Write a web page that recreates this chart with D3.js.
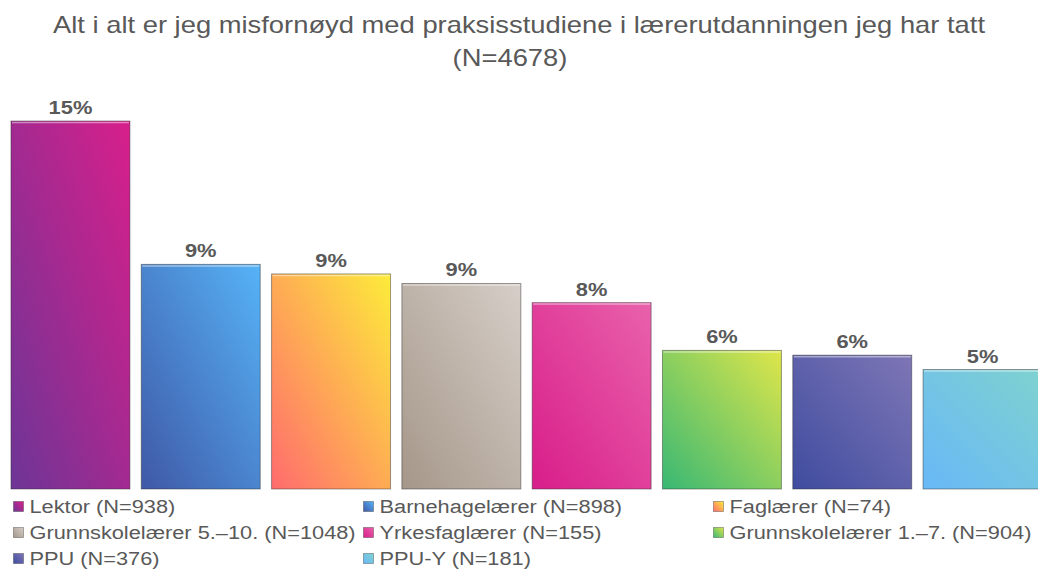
<!DOCTYPE html>
<html>
<head>
<meta charset="utf-8">
<script src="https://cdn.jsdelivr.net/npm/d3@7"></script>
<style>
  html, body { margin: 0; padding: 0; background: #fff; }
  svg { display: block; font-family: "Liberation Sans", Arial, sans-serif; }
</style>
</head>
<body>
<div id="chart"></div>
<script>
// Data
const titleLines = ['Alt i alt er jeg misfornøyd med praksisstudiene i lærerutdanningen jeg har tatt', '(N=4678)'];
const categories = ['Lektor', 'Barnehagelærer', 'Faglærer', 'Grunnskolelærer 5.–10.', 'Yrkesfaglærer', 'Grunnskolelærer 1.–7.', 'PPU', 'PPU-Y'];
const counts = [938, 898, 74, 1048, 155, 904, 376, 181];
const values = [15.4, 9.4, 9.0, 8.6, 7.8, 5.8, 5.6, 5.0];
// gradient colours: [bottom-left, top-right]
const gradients = [
    ['#6d3596', '#d81f8b'],
    ['#3f58a6', '#56b3f7'],
    ['#ff6b6e', '#fdec3a'],
    ['#a59789', '#d6cec8'],
    ['#d81d8a', '#e962ab'],
    ['#38b874', '#dfe64a'],
    ['#3f4c9f', '#7e76b6'],
    ['#68b8f7', '#7fd2cf']
];

const width = 1038, height = 572;
const textColor = '#595959';
const stretch = 1.19; // text in the picture is drawn a bit wide

const svg = d3.select('#chart').append('svg')
    .attr('width', width)
    .attr('height', height);

const defs = svg.append('defs');
gradients.forEach((g, i) => {
    const lg = defs.append('linearGradient')
        .attr('id', `grad${i}`)
        .attr('x1', '0%').attr('y1', '100%')
        .attr('x2', '100%').attr('y2', '0%');
    lg.append('stop').attr('offset', '0%').attr('stop-color', g[0]);
    lg.append('stop').attr('offset', '100%').attr('stop-color', g[1]);
});

// Title
const titlePos = [[519, 33], [510, 66]];
svg.append('g')
    .attr('class', 'title')
    .selectAll('text')
    .data(titleLines)
    .enter()
    .append('text')
    .attr('transform', (d, i) => `translate(${titlePos[i][0]},${titlePos[i][1]}) scale(${stretch},1)`)
    .attr('text-anchor', 'middle')
    .attr('fill', textColor)
    .style('font-size', '23px')
    .text(d => d);

// Scales
const xScale = d3.scaleBand()
    .domain(categories)
    .range([5.3, 1047.7])
    .paddingInner(0.087)
    .paddingOuter(0.0435);

const yScale = d3.scaleLinear()
    .domain([0, d3.max(values)])
    .range([489, 121]);

// Bars
const bars = svg.append('g').attr('class', 'bars');

bars.selectAll('.bar')
    .data(values)
    .enter()
    .append('rect')
    .attr('class', 'bar')
    .attr('x', (d, i) => xScale(categories[i]))
    .attr('y', d => yScale(d))
    .attr('width', xScale.bandwidth())
    .attr('height', d => yScale(0) - yScale(d))
    .attr('fill', (d, i) => `url(#grad${i})`)
    .attr('stroke', 'rgba(40,40,40,0.45)')
    .attr('stroke-width', 1);

// light highlight along the top edge
bars.selectAll('.bar-top')
    .data(values)
    .enter()
    .append('line')
    .attr('class', 'bar-top')
    .attr('x1', (d, i) => xScale(categories[i]) + 1)
    .attr('x2', (d, i) => xScale(categories[i]) + xScale.bandwidth() - 1)
    .attr('y1', d => yScale(d) + 1.5)
    .attr('y2', d => yScale(d) + 1.5)
    .attr('stroke', 'rgba(255,255,255,0.45)')
    .attr('stroke-width', 1.5);

// Value labels
bars.selectAll('.label')
    .data(values)
    .enter()
    .append('text')
    .attr('class', 'label')
    .attr('transform', (d, i) => `translate(${xScale(categories[i]) + xScale.bandwidth() / 2},${yScale(d) - 7}) scale(1.15,1)`)
    .attr('text-anchor', 'middle')
    .attr('fill', textColor)
    .style('font-size', '19px')
    .style('font-weight', 'bold')
    .text(d => `${Math.round(d)}%`);

// Legend
const legendCols = [13, 363, 713];
const legendRows = [513, 539, 565];
const legend = svg.append('g').attr('class', 'legend');

const items = legend.selectAll('.legend-item')
    .data(categories)
    .enter()
    .append('g')
    .attr('class', 'legend-item')
    .attr('transform', (d, i) => `translate(${legendCols[i % 3]},${legendRows[Math.floor(i / 3)]})`);

items.append('rect')
    .attr('x', 0.5)
    .attr('y', -11.5)
    .attr('width', 10)
    .attr('height', 10)
    .attr('fill', (d, i) => `url(#grad${i})`)
    .attr('stroke', 'rgba(40,40,40,0.45)')
    .attr('stroke-width', 0.8);

items.append('text')
    .attr('transform', 'translate(16.5,0) scale(1.21,1)')
    .attr('fill', textColor)
    .style('font-size', '18px')
    .text((d, i) => `${d} (N=${counts[i]})`);
</script>
</body>
</html>
